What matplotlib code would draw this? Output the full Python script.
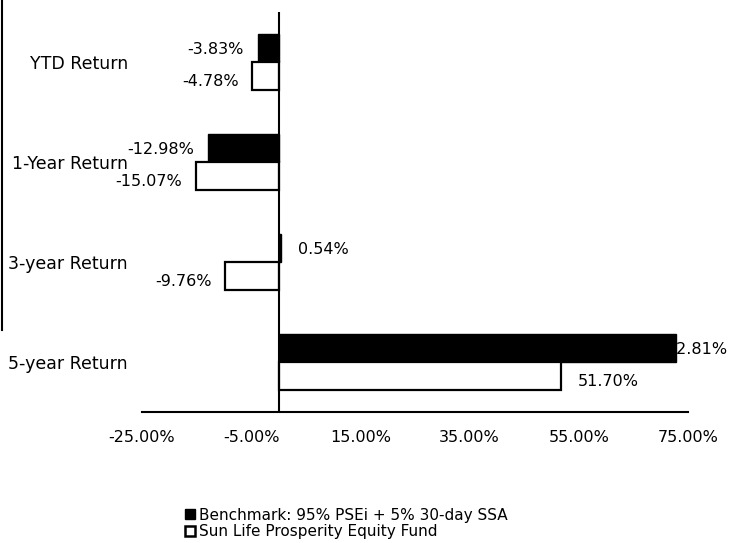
import matplotlib
matplotlib.use("Agg")
import matplotlib.pyplot as plt
from matplotlib.patches import Patch
from matplotlib.lines import Line2D
import numpy as np

categories = ["YTD Return", "1-Year Return", "3-year Return", "5-year Return"]
benchmark = [-3.83, -12.98, 0.54, 72.81]
fund = [-4.78, -15.07, -9.76, 51.70]
xticks = [-25, -5, 15, 35, 55, 75]
bench_name = "Benchmark: 95% PSEi + 5% 30-day SSA"
fund_name = "Sun Life Prosperity Equity Fund"

fig = plt.figure(figsize=(7.29, 5.43), dpi=100)
ax = fig.add_axes([142/729, 1-412/543, 546/729, 400/543])

y = np.arange(len(categories))
h = 0.28
ax.barh(y - h/2, benchmark, height=h, color="black", edgecolor="black")
ax.barh(y + h/2, fund, height=h, color="white", edgecolor="black", linewidth=1.6)

ax.set_xlim(-25, 75)
ax.set_ylim(3.5, -0.5)
ax.set_xticks(xticks)
ax.set_xticklabels(["%.2f%%" % v for v in xticks])
ax.set_yticks(y)
ax.set_yticklabels(categories)
ax.tick_params(axis="both", length=0)
ax.tick_params(axis="x", labelsize=11.5, pad=13)
ax.tick_params(axis="y", labelsize=12.5, pad=10)

for s in ["top", "right", "left"]:
    ax.spines[s].set_visible(False)
ax.spines["bottom"].set_linewidth(1.5)
ax.axvline(0, color="black", lw=1.5)

def label(v, yy, dx=None):
    if v < 0:
        ax.annotate("%.2f%%" % v, (v, yy), xytext=(-10, 0), textcoords="offset points",
                    ha="right", va="center", fontsize=11.5)
    else:
        ax.annotate("%.2f%%" % v, (v, yy), xytext=(dx if dx is not None else 12, 0),
                    textcoords="offset points", ha="left", va="center", fontsize=11.5)

for i in range(len(categories)):
    label(benchmark[i], y[i] - h/2 + 0.02, -7 if benchmark[i] > 70 else None)
    label(fund[i], y[i] + h/2 + 0.05)

handles = [Patch(facecolor="black", edgecolor="black"),
           Patch(facecolor="white", edgecolor="black", linewidth=1.8)]
fig.legend(handles, [bench_name, fund_name], loc="upper left",
           bbox_to_anchor=(174/729, 1-497/543), frameon=False, fontsize=11,
           handlelength=0.65, handleheight=0.65, handletextpad=0.3, labelspacing=0.1,
           borderpad=0.2)

fig.add_artist(Line2D([0.003, 0.003], [1-330/543, 1.0], color="black", lw=1.5))

fig.savefig("out.png", dpi=100)
